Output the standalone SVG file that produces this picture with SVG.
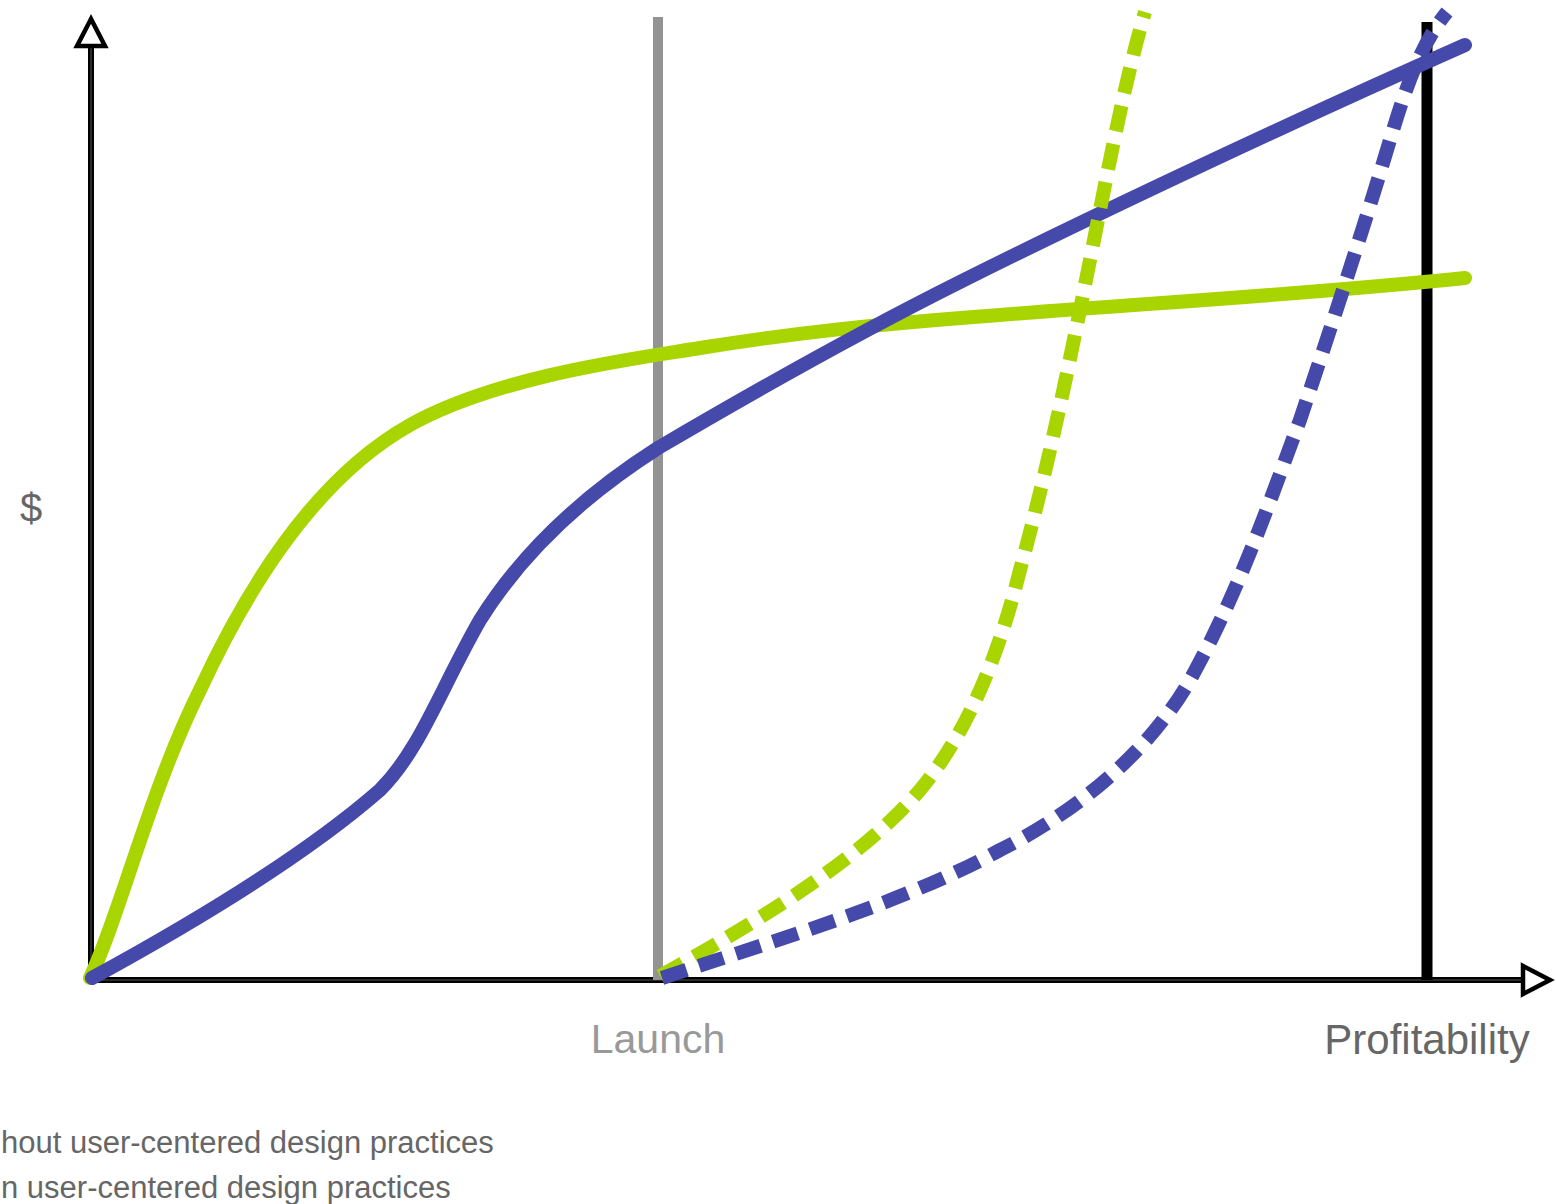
<svg xmlns="http://www.w3.org/2000/svg" width="1556" height="1204" viewBox="0 0 1556 1204">
<style>
.lbl{font-family:"Liberation Sans",Arial,sans-serif;fill:#666}
.axis{stroke:#000;stroke-width:6;fill:none}
.axisin{stroke:#555;stroke-width:1;fill:none}
.g{stroke:#a8d400;stroke-width:14;fill:none;stroke-linecap:round;stroke-linejoin:round}
.b{stroke:#4549a9;stroke-width:14;fill:none;stroke-linecap:round;stroke-linejoin:round}
.d{stroke-dasharray:26 13;stroke-linecap:butt}
</style>
<rect width="1556" height="1204" fill="#fff"/>
<g id="axes">
<line class="axis" x1="91" y1="982" x2="91" y2="46"/>
<line class="axisin" x1="91" y1="980" x2="91" y2="46"/>
<polygon points="91,19 77,46 105,46" fill="#fff" stroke="#000" stroke-width="4.5" stroke-linejoin="miter"/>
<line class="axis" x1="88" y1="980" x2="1523" y2="980"/>
<line class="axisin" x1="92" y1="980" x2="1523" y2="980"/>
<polygon points="1550,980 1523,966 1523,994" fill="#fff" stroke="#000" stroke-width="4.5"/>
</g>
<g id="launch">
<line x1="658" y1="17" x2="658" y2="980" stroke="#939393" stroke-width="10"/>
<text class="lbl" x="658" y="1053" font-size="41" text-anchor="middle" style="fill:#999">Launch</text>
</g>
<g id="profitability">
<line x1="1427" y1="22" x2="1427" y2="980" stroke="#000" stroke-width="11"/>
<text class="lbl" x="1427" y="1054" font-size="42" text-anchor="middle">Profitability</text>
</g>
<g id="ylabel"><text class="lbl" x="31" y="522" font-size="40" text-anchor="middle">$</text></g>
<g id="curves">
<path class="g" d="M90,978 C120,915 150,790 200,690 C260,560 330,470 410,425 C500,375 640,358 700,348 C800,332 880,324 1000,315 C1150,303 1300,295 1465,278"/>
<path class="b" d="M92,978 C180,930 300,860 380,790 C420,750 440,690 480,620 C530,540 600,485 658,448 C760,388 860,332 960,282 C1100,212 1300,118 1465,45"/>
<path class="g d" d="M660,976 C760,920 860,860 920,790 C970,730 1000,650 1020,570 C1050,460 1070,360 1090,260 C1110,160 1125,80 1145,12"/>
<path class="b d" d="M662,978 C760,945 900,905 1000,850 C1080,810 1150,750 1190,680 C1240,590 1270,500 1300,420 C1330,330 1360,240 1390,140 C1405,90 1420,45 1447,12"/>
</g>
<g id="legend">
<text class="lbl" x="1" y="1153" font-size="31">hout user-centered design practices</text>
<text class="lbl" x="1" y="1198" font-size="31">n user-centered design practices</text>
</g>
</svg>
